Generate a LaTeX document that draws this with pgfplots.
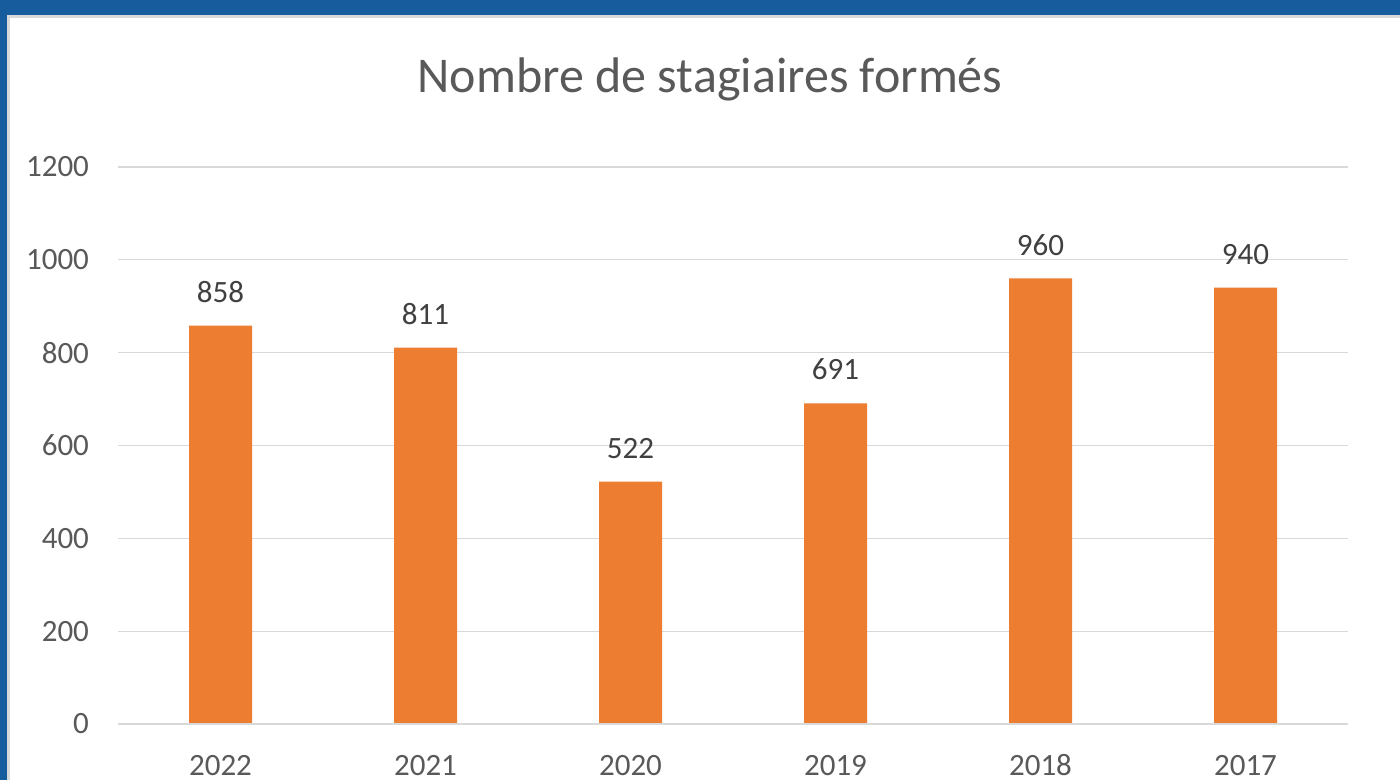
\documentclass[border=0pt]{standalone}
\usepackage{fontspec}
\setmainfont{Carlito}
\usepackage{pgfplots}
\pgfplotsset{compat=1.18}
\definecolor{frameblue}{HTML}{175C9C}
\definecolor{framegray}{HTML}{D9D9D9}
\definecolor{barorange}{HTML}{ED7D31}
\definecolor{txtgray}{HTML}{595959}
\definecolor{gridgray}{HTML}{D9D9D9}
\begin{document}
\begin{tikzpicture}
\useasboundingbox (0,0) rectangle (700pt,390pt);
\fill[frameblue] (0,0) rectangle (700pt,390pt);
\fill[framegray] (3.5pt,0) rectangle (700pt,382.5pt);
\fill[white] (5pt,0) rectangle (700pt,381pt);
\begin{axis}[
  at={(59pt,28pt)}, anchor=south west,
  scale only axis, width=615pt, height=278.5pt,
  xmin=-0.5, xmax=5.5, ymin=0, ymax=1200,
  ytick={0,200,...,1200},
  xtick=data,
  xticklabels={2022,2021,2020,2019,2018,2017},
  ybar, bar width=31.5pt,
  axis line style={draw=none},
  axis x line*=bottom,
  major tick length=0pt,
  ymajorgrids, grid style={gridgray, line width=0.6pt},
  tick label style={font=\fontsize{15.5}{18}\selectfont, text=txtgray},
  /pgf/number format/assume math mode=true,
  /pgf/number format/1000 sep={},
  yticklabel style={xshift=-11pt},
  xticklabel style={yshift=-11pt, anchor=north, text height=11pt, text depth=0pt},
  nodes near coords,
  nodes near coords style={font=\fontsize{15.5}{18}\selectfont, text=black!75, yshift=8pt},
  clip=false,
]
\addplot[fill=barorange, draw=none] coordinates {(0,858) (1,811) (2,522) (3,691) (4,960) (5,940)};
\draw[gridgray, line width=0.6pt] (axis cs:-0.5,0) -- (axis cs:5.5,0);
\end{axis}
\node[text=txtgray, font=\fontsize{25}{30}\selectfont] at (355pt,350.5pt) {Nombre de stagiaires formés};
\end{tikzpicture}
\end{document}
